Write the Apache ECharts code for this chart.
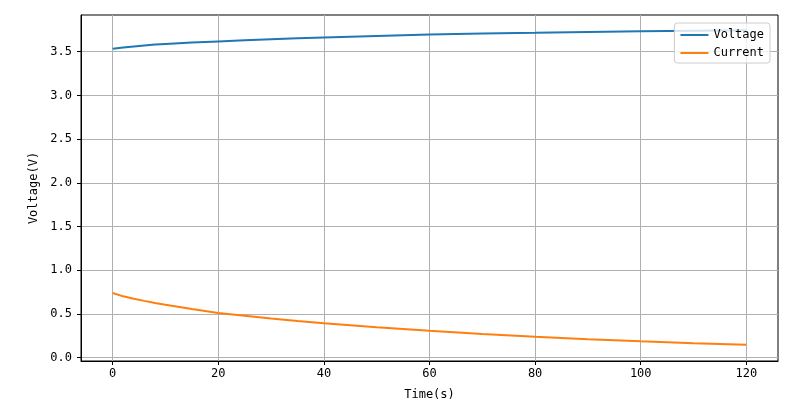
<!DOCTYPE html>
<html>
<head>
<meta charset="utf-8">
<script src="https://cdn.jsdelivr.net/npm/echarts@6/dist/echarts.min.js"></script>
<style>html,body{margin:0;padding:0;background:#fff}#c{width:800px;height:409px}</style>
</head>
<body>
<div id="c"></div>
<script>
const timeS = [0, 2, 4, 6, 8, 10, 15, 20, 25, 30, 35, 40, 50, 60, 70, 80, 90, 100, 110, 120];
const voltage = [3.535, 3.548, 3.560, 3.572, 3.581, 3.588, 3.604, 3.617, 3.630, 3.642, 3.653, 3.663, 3.681, 3.697, 3.707, 3.716, 3.726, 3.735, 3.741, 3.746];
const current = [0.738, 0.700, 0.672, 0.648, 0.625, 0.603, 0.555, 0.510, 0.478, 0.447, 0.418, 0.392, 0.347, 0.307, 0.270, 0.238, 0.210, 0.185, 0.163, 0.145];
const xTicks = [0, 20, 40, 60, 80, 100, 120];
const yTicks = [0, 0.5, 1.0, 1.5, 2.0, 2.5, 3.0, 3.5];

const font = 'DejaVu Sans Mono';
const chart = echarts.init(document.getElementById('c'));
const pair = a => timeS.map((t, i) => [t, a[i]]);
chart.setOption({
  animation: false,
  backgroundColor: '#fff',
  textStyle: {fontFamily: font},
  grid: {left: 81, right: 22, top: 15, bottom: 48, show: true, borderColor: '#000', borderWidth: 1, backgroundColor: 'transparent'},
  legend: {
    right: 30, top: 23, orient: 'vertical', itemGap: 6,
    icon: 'rect', itemWidth: 28, itemHeight: 2,
    backgroundColor: 'rgba(255,255,255,0.8)', borderColor: '#cccccc', borderWidth: 1, borderRadius: 3,
    padding: [6, 6, 4, 6],
    textStyle: {fontFamily: font, fontSize: 12, color: '#000'},
    data: ['Voltage', 'Current']
  },
  xAxis: {
    type: 'value', min: -6, max: 126,
    name: 'Time(s)', nameLocation: 'middle', nameGap: 28,
    nameTextStyle: {fontFamily: font, fontSize: 12, color: '#000'},
    axisLine: {show: true, onZero: false, lineStyle: {color: '#000', width: 1}},
    axisTick: {show: true, length: 4, customValues: xTicks, lineStyle: {color: '#000'}},
    axisLabel: {customValues: xTicks, color: '#000', fontSize: 12, fontFamily: font, margin: 7},
    splitLine: {show: true, lineStyle: {color: '#b0b0b0', width: 1}}
  },
  yAxis: {
    type: 'value', min: -0.04, max: 3.92,
    name: 'Voltage(V)', nameLocation: 'middle', nameGap: 40, nameRotate: 90,
    nameTextStyle: {fontFamily: font, fontSize: 12, color: '#000'},
    axisLine: {show: true, onZero: false, lineStyle: {color: '#000', width: 1}},
    axisTick: {show: true, length: 4, customValues: yTicks, lineStyle: {color: '#000'}},
    axisLabel: {customValues: yTicks, color: '#000', fontSize: 12, fontFamily: font, margin: 9,
      formatter: v => v.toFixed(1)},
    splitLine: {show: true, lineStyle: {color: '#b0b0b0', width: 1}}
  },
  series: [
    {name: 'Voltage', type: 'line', data: pair(voltage), showSymbol: false, smooth: false,
      lineStyle: {color: '#1f77b4', width: 2}, itemStyle: {color: '#1f77b4'}},
    {name: 'Current', type: 'line', data: pair(current), showSymbol: false, smooth: false,
      lineStyle: {color: '#ff7f0e', width: 2}, itemStyle: {color: '#ff7f0e'}}
  ]
});
</script>
</body>
</html>
